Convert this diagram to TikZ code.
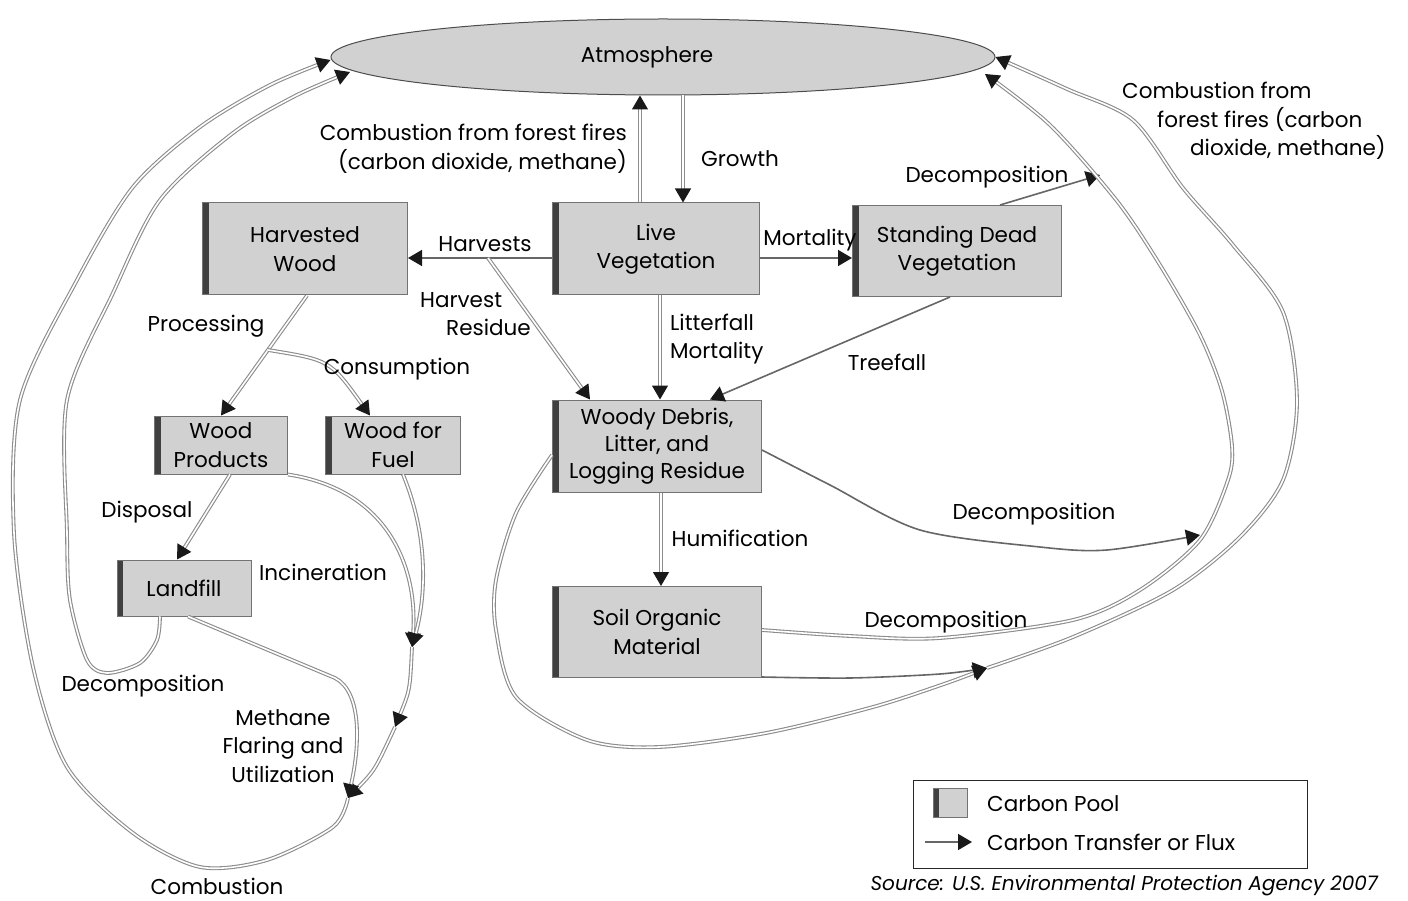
\documentclass[tikz,border=0pt]{standalone}
\usepackage{fontspec}
\setmainfont{Poppins}
\usetikzlibrary{shapes.geometric,arrows.meta}
\begin{document}
\begin{tikzpicture}[x=1pt,y=-1pt,
  font=\fontsize{21.5}{28.5}\selectfont,
  pool/.style={draw=black!55, fill=black!18, line width=1pt, inner sep=0pt, align=center,
    path picture={\fill[black!75] (path picture bounding box.north west) rectangle ([xshift=6pt]path picture bounding box.south west);}},
  flow/.style={draw=black!45, double=white, double distance=1.6pt, line width=1.1pt,
    -{Triangle[length=14pt,width=16pt,color=black!90]}},
  thinflow/.style={draw=black!60, line width=1.6pt, -{Triangle[length=14pt,width=16pt,color=black!90]}},
  lbl/.style={inner sep=0pt, align=center}]
\useasboundingbox (0,0) rectangle (1408,901);
\node [ellipse, draw=black!70, fill=black!18, line width=1pt, minimum width=664pt, minimum height=76pt] (atm) at (663,57) {};
\node [lbl] (atmlbl) at (647,57) {Atmosphere};
\node [pool, minimum width=205pt, minimum height=92pt] (hw) at (305,249) {Harvested\\Wood};
\node [pool, minimum width=207pt, minimum height=92pt] (lv) at (656,249) {Live\\Vegetation};
\node [pool, minimum width=209pt, minimum height=91pt] (sd) at (957,251) {Standing Dead\\Vegetation};
\node [pool, minimum width=209pt, minimum height=92pt, font=\fontsize{21.5}{27}\selectfont] (wd) at (657,446) {Woody Debris,\\Litter, and\\Logging Residue};
\node [pool, minimum width=209pt, minimum height=91pt] (so) at (657,632) {Soil Organic\\Material};
\node [pool, minimum width=133pt, minimum height=58pt] (wp) at (221,445) {Wood\\Products};
\node [pool, minimum width=135pt, minimum height=58pt] (wf) at (393,445) {Wood for\\Fuel};
\node [pool, minimum width=134pt, minimum height=56pt] (lf) at (184,588) {Landfill};
\coordinate (hres) at (488,258);
\coordinate (sdd) at (1100,175);
\coordinate (cons) at (268,350);
\coordinate (inc1) at (412,647);
\coordinate (inc2) at (395,727);
\coordinate (cmb) at (348,798);
\coordinate (jn) at (987,668);
\coordinate (atmr) at (985,74);
\coordinate (atml) at (350,72);
\draw [flow] ([xshift=-16pt]lv.north) -- ([xshift=-16pt]lv.north |- atm.south);
\draw [flow] ([xshift=27pt]lv.north |- atm.south) -- ([xshift=27pt]lv.north);
\draw [thinflow] ([yshift=-9pt]lv.west) -- ([yshift=-9pt]lv.west -| hw.east);
\draw [flow] (hres) -- ([xshift=38pt]wd.north west);
\draw [thinflow] ([yshift=-9pt]lv.east) -- ([yshift=-9pt]lv.east -| sd.west);
\draw [flow] ([xshift=4pt]lv.south) -- ([xshift=4pt]lv.south |- wd.north);
\draw [thinflow] ([xshift=-7pt]sd.south) -- ([xshift=53pt]wd.north);
\draw [thinflow] ([xshift=43pt]sd.north) -- (sdd);
\draw [flow] ([xshift=4pt]wd.south) -- ([xshift=4pt]wd.south |- so.north);
\draw [flow] ([xshift=2pt]hw.south) -- (wp.north);
\draw [flow] (cons) .. controls (330,360) .. ([xshift=-23pt]wf.north);
\draw [flow] ([xshift=9pt]wp.south) -- ([xshift=-7pt]lf.north);
\draw [flow] (wp.south east) .. controls (390,490) and (418,570) .. (inc1);
\draw [flow] ([xshift=10pt]wf.south) .. controls (430,540) and (425,600) .. (inc1);
\draw [flow] (inc1) .. controls (410,690) .. (inc2);
\draw [flow] (inc2) .. controls (375,770) .. (cmb);
\draw [flow] ([xshift=4pt]lf.south) -- (335,678) .. controls (362,692) and (360,745) .. (cmb);
\draw [flow] plot [smooth] coordinates {(cmb) (333,827) (267,860) (200,867) (133,833) (67,767) (33,667) (14,533) (20,400) (77,280) (133,187) (200,127) (270,85) ([yshift=-3pt]atm.west)};
\draw [flow] plot [smooth] coordinates {([xshift=-24pt]lf.south) (157,640) (140,663) (107,673) (87,660) (70,600) (67,533) (67,400) (113,293) (160,200) (233,133) (295,96) (atml)};
\draw [flow] plot [smooth] coordinates {([yshift=-9pt]wd.west) (516,513) (496,580) (496,630) (516,697) (587,740) (659,747) (766,733) (873,707) (944,684) (jn)};
\draw [thinflow] plot [smooth] coordinates {([yshift=1pt]so.south east) (850,678) (940,674) (jn)};
\draw [thinflow] plot [smooth] coordinates {([yshift=-4pt]wd.east) (830,485) (920,530) (1040,547) (1107,550) (1200,535)};
\draw [flow] plot [smooth] coordinates {(jn) (1073,637) (1173,590) (1240,537) (1283,480) (1297,402) (1283,312) (1233,245) (1183,188) (1133,120) (1067,89) (atm.east)};
\draw [flow] plot [smooth] coordinates {([yshift=2pt]so.east) (850,636) (940,638) (1073,620) (1140,590) (1200,540) (1228,480) (1232,446) (1222,391) (1200,335) (1160,265) (1117,201) (1050,125) (atmr)};
\node [lbl, anchor=east, align=right] (fireslbl) at (627,149) {Combustion from forest fires\\(carbon dioxide, methane)};
\node [lbl] (growthlbl) at (740,159) {Growth};
\node [lbl] (harvlbl) at (485,244) {Harvests};
\node [lbl] (mortlbl) at (810,240) {Mortality};
\node [lbl, anchor=west, align=left] (reslbl) at (420,314) {Harvest\\\hspace*{26pt}Residue};
\node [lbl, anchor=west, align=left] (litterlbl) at (670,339) {Litterfall\\Mortality};
\node [lbl] (sddlbl) at (987,177) {Decomposition};
\node [lbl] (treelbl) at (887,362) {Treefall};
\node [lbl] (proclbl) at (206,326) {Processing};
\node [lbl] (conslbl) at (397,369) {Consumption};
\node [lbl] (displbl) at (147,512) {Disposal};
\node [lbl] (incinlbl) at (323,572) {Incineration};
\node [lbl] (lfdlbl) at (143,686) {Decomposition};
\node [lbl] (methlbl) at (283,746) {Methane\\Flaring and\\Utilization};
\node [lbl] (cmblbl) at (217,886) {Combustion};
\node [lbl] (humlbl) at (740,538) {Humification};
\node [lbl] (wddlbl) at (1034,514) {Decomposition};
\node [lbl] (sodlbl) at (946,622) {Decomposition};
\node [lbl, anchor=west, align=left] (firesrlbl) at (1122,121) {Combustion from\\\hspace*{35pt}forest fires (carbon\\\hspace*{68pt}dioxide, methane)};
\node [draw=black!85, line width=1pt, minimum width=394pt, minimum height=88pt] (leg) at (1110,824) {};
\node [pool, minimum width=34pt, minimum height=29pt, line width=0.5pt] (legpool) at (950,803) {};
\node [lbl, anchor=west] (legpoollbl) at (987,804) {Carbon Pool};
\coordinate (legA) at (925,842);
\coordinate (legB) at (972,842);
\draw [thinflow] (legA) -- (legB);
\node [lbl, anchor=west] (legfluxlbl) at (987,842) {Carbon Transfer or Flux};
\node [lbl, anchor=east, font=\fontsize{20}{26}\selectfont\itshape] (srclbl) at (1378,886) {Source: U.S. Environmental Protection Agency 2007};
\end{tikzpicture}
\end{document}
